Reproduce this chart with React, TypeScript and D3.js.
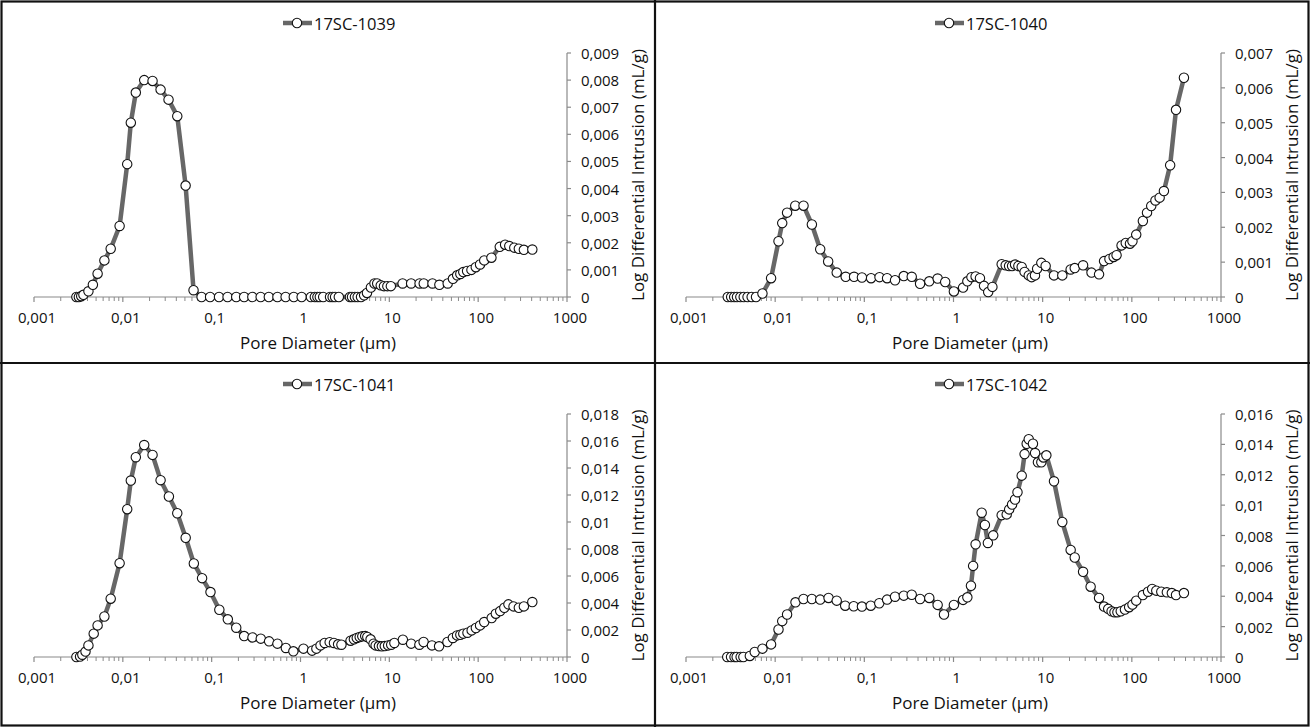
import React from "react";
import * as d3 from "d3";

// ---------- DATA ----------
const SAMPLES = ["17SC-1039", "17SC-1040", "17SC-1041", "17SC-1042"];

const X_TICKS = [0.001, 0.01, 0.1, 1, 10, 100, 1000];
const X_TICK_LABELS = ["0,001", "0,01", "0,1", "1", "10", "100", "1000"];

const Y_TICKS_1039 = [0, 0.001, 0.002, 0.003, 0.004, 0.005, 0.006, 0.007, 0.008, 0.009];
const Y_LABELS_1039 = ["0", "0,001", "0,002", "0,003", "0,004", "0,005", "0,006", "0,007", "0,008", "0,009"];
const Y_TICKS_1040 = [0, 0.001, 0.002, 0.003, 0.004, 0.005, 0.006, 0.007];
const Y_LABELS_1040 = ["0", "0,001", "0,002", "0,003", "0,004", "0,005", "0,006", "0,007"];
const Y_TICKS_1041 = [0, 0.002, 0.004, 0.006, 0.008, 0.01, 0.012, 0.014, 0.016, 0.018];
const Y_LABELS_1041 = ["0", "0,002", "0,004", "0,006", "0,008", "0,01", "0,012", "0,014", "0,016", "0,018"];
const Y_TICKS_1042 = [0, 0.002, 0.004, 0.006, 0.008, 0.01, 0.012, 0.014, 0.016];
const Y_LABELS_1042 = ["0", "0,002", "0,004", "0,006", "0,008", "0,01", "0,012", "0,014", "0,016"];

// [pore diameter (µm), log differential intrusion (mL/g)]
const DATA_1039: [number, number][] = [
  [0.003, 0], [0.0032, 0], [0.0034, 0.00003], [0.0036, 0.00008], [0.0041, 0.00021], [0.0046, 0.00045],
  [0.0052, 0.00086], [0.0062, 0.00135], [0.0073, 0.00178], [0.0092, 0.00262], [0.0112, 0.0049],
  [0.0123, 0.00643], [0.014, 0.00754], [0.0174, 0.008], [0.0216, 0.00797], [0.0266, 0.00765],
  [0.0327, 0.00728], [0.041, 0.00667], [0.0509, 0.00411], [0.0625, 0.00025],
  [0.077, 0], [0.096, 0], [0.121, 0], [0.151, 0], [0.189, 0], [0.232, 0], [0.287, 0], [0.356, 0],
  [0.44, 0], [0.55, 0], [0.68, 0], [0.84, 0], [1.03, 0], [1.31, 0], [1.45, 0], [1.55, 0], [1.65, 0],
  [1.8, 0], [2.15, 0], [2.3, 0], [2.45, 0], [2.7, 0], [3.6, 0], [3.8, 0], [4.1, 0], [4.4, 0], [4.8, 0],
  [5.2, 0.00006], [5.6, 0.00015], [6.2, 0.00035], [6.8, 0.0005], [7.3, 0.0005], [8.0, 0.00043],
  [8.7, 0.0004], [9.5, 0.0004], [10.4, 0.0004], [14.1, 0.0005], [17.6, 0.0005], [21.9, 0.0005],
  [24.4, 0.0005], [30.6, 0.0005], [36.6, 0.00045], [45.4, 0.0005], [52, 0.00067], [58, 0.0008],
  [63, 0.00085], [68, 0.00092], [75, 0.00096], [84, 0.001], [94, 0.0011], [105, 0.0012],
  [117, 0.00135], [141, 0.00145], [175, 0.00185], [201, 0.00193], [224, 0.00188], [255, 0.00182],
  [287, 0.00178], [327, 0.00174], [407, 0.00175],
];

const DATA_1040: [number, number][] = [
  [0.00294, 0], [0.00321, 0], [0.00347, 0], [0.00373, 0], [0.00407, 0], [0.00444, 0], [0.0049, 0],
  [0.00545, 0], [0.0061, 0], [0.0072, 0.0001], [0.009, 0.00054], [0.0109, 0.0016], [0.012, 0.00212],
  [0.0136, 0.00242], [0.0168, 0.00262], [0.0208, 0.00262], [0.0258, 0.00208], [0.032, 0.00137],
  [0.0393, 0.00102], [0.049, 0.0007], [0.0618, 0.00058], [0.0767, 0.00058], [0.094, 0.00056],
  [0.119, 0.00054], [0.148, 0.00057], [0.18, 0.00054], [0.221, 0.00048], [0.277, 0.0006],
  [0.34, 0.00058], [0.422, 0.00038], [0.535, 0.00045], [0.664, 0.00053], [0.807, 0.00043],
  [1.01, 0.00016], [1.28, 0.00027], [1.43, 0.00045], [1.59, 0.00057], [1.77, 0.00059],
  [1.98, 0.00054], [2.2, 0.00032], [2.45, 0.00014], [2.73, 0.00029], [3.47, 0.00094],
  [3.85, 0.00091], [4.2, 0.00089], [4.54, 0.00089], [4.9, 0.00093], [5.34, 0.00089], [5.82, 0.00086],
  [6.27, 0.00072], [6.98, 0.00062], [7.53, 0.00057], [8.2, 0.00062], [8.67, 0.00081], [9.66, 0.00098],
  [10.8, 0.00089], [13.4, 0.00062], [16.6, 0.00062], [20.6, 0.00079], [22.9, 0.00083], [28.4, 0.00091],
  [35.3, 0.0007], [42.9, 0.00065], [48.8, 0.00103], [56.1, 0.00109], [62.5, 0.00115], [67.4, 0.0012],
  [76.7, 0.00148], [85.5, 0.00155], [95.3, 0.00153], [101.6, 0.0016], [112, 0.00179], [133, 0.00218],
  [148, 0.00242], [165, 0.00261], [184, 0.00277], [205, 0.00285], [229, 0.00304], [269, 0.00378],
  [313, 0.00537], [384, 0.00629],
];

const DATA_1041: [number, number][] = [
  [0.003, 0], [0.0033, 0.00003], [0.0035, 0.00017], [0.0038, 0.0004], [0.0041, 0.00086],
  [0.0047, 0.00173], [0.0052, 0.00234], [0.0062, 0.003], [0.0073, 0.00432], [0.0092, 0.00695],
  [0.0112, 0.01095], [0.0123, 0.01307], [0.014, 0.0148], [0.0174, 0.0157], [0.0216, 0.01497],
  [0.0266, 0.0131], [0.033, 0.01189], [0.041, 0.01065], [0.051, 0.00883], [0.063, 0.00693],
  [0.078, 0.00584], [0.097, 0.00481], [0.122, 0.0035], [0.152, 0.00279], [0.189, 0.00217],
  [0.232, 0.00155], [0.288, 0.00145], [0.357, 0.00136], [0.443, 0.00116], [0.55, 0.00099],
  [0.684, 0.00067], [0.831, 0.00042], [1.08, 0.00062], [1.35, 0.00047], [1.51, 0.00062],
  [1.68, 0.00086], [1.87, 0.00104], [2.13, 0.0011], [2.38, 0.00104], [2.65, 0.00094], [2.89, 0.00091],
  [3.66, 0.00121], [3.99, 0.00131], [4.3, 0.00141], [4.64, 0.00148], [4.96, 0.00153], [5.35, 0.00155],
  [5.65, 0.00148], [6.15, 0.00131], [6.64, 0.00099], [7.01, 0.00086], [7.64, 0.00081], [8.24, 0.00079],
  [8.89, 0.00081], [9.7, 0.00086], [10.5, 0.00091], [11.4, 0.00104], [14.2, 0.00128], [17.6, 0.00099],
  [21.8, 0.00091], [24.3, 0.00111], [30.2, 0.00086], [36.3, 0.00079], [45.1, 0.00111], [51.9, 0.00141],
  [57.8, 0.0016], [63, 0.00165], [68, 0.00173], [75.8, 0.0018], [84.5, 0.00197], [94.2, 0.00215],
  [105, 0.00234], [117, 0.00259], [142, 0.00289], [158, 0.00321], [177, 0.0034], [197, 0.00365],
  [219, 0.0039], [250, 0.00375], [287, 0.00365], [327, 0.00375], [407, 0.00407],
];

const DATA_1042: [number, number][] = [
  [0.0029, 0], [0.0032, 0], [0.0035, 0], [0.0037, 0], [0.0041, 0], [0.0044, 0], [0.0052, 0.00007],
  [0.0059, 0.00033], [0.0072, 0.00055], [0.009, 0.00083], [0.0109, 0.00181], [0.012, 0.00236],
  [0.0136, 0.0028], [0.0169, 0.0036], [0.0208, 0.00382], [0.0258, 0.00382], [0.032, 0.00378],
  [0.0397, 0.00389], [0.049, 0.00371], [0.061, 0.00338], [0.076, 0.00334], [0.094, 0.00332],
  [0.118, 0.00338], [0.147, 0.00354], [0.18, 0.00378], [0.221, 0.00397], [0.277, 0.00404],
  [0.34, 0.0041], [0.422, 0.00382], [0.535, 0.00389], [0.664, 0.00343], [0.782, 0.0028],
  [1.01, 0.00343], [1.28, 0.00376], [1.43, 0.00393], [1.57, 0.00469], [1.66, 0.006], [1.77, 0.00742],
  [2.07, 0.0095], [2.25, 0.00869], [2.43, 0.00751], [2.79, 0.00801], [3.47, 0.00934], [3.95, 0.00939],
  [4.21, 0.00972], [4.54, 0.01004], [4.9, 0.01037], [5.22, 0.01085], [5.82, 0.01194], [6.27, 0.01336],
  [6.62, 0.01404], [6.98, 0.01434], [7.78, 0.01404], [8.22, 0.01343], [8.85, 0.01282], [9.66, 0.01282],
  [10.2, 0.01314], [11, 0.01328], [13.4, 0.01157], [16.6, 0.00889], [20.6, 0.00705], [22.9, 0.00655],
  [28.4, 0.00561], [34.5, 0.00463], [42.9, 0.00389], [48.8, 0.00332], [54.3, 0.00317], [59.3, 0.00301],
  [63.9, 0.00295], [68.9, 0.00295], [75.1, 0.00301], [83.7, 0.00312], [93.3, 0.00328], [101.6, 0.00345],
  [112, 0.00371], [133, 0.00408], [152, 0.0043], [169, 0.00448], [188, 0.00437], [214, 0.0043],
  [247, 0.00426], [281, 0.00421], [313, 0.00408], [384, 0.00421],
];

const X_TITLE = "Pore Diameter (µm)";
const Y_TITLE = "Log Differential Intrusion (mL/g)";

// ---------- LAYOUT ----------
const W = 1310;
const H = 727;
const FONT = "'Open Sans', 'DejaVu Sans', sans-serif";
const TEXT = "#111";
const AXIS = "#8a8a8a";
const LINE = "#676767";

const PANELS = [
  { name: SAMPLES[0], data: DATA_1039, yTicks: Y_TICKS_1039, yLabels: Y_LABELS_1039, ox: 0, oy: 0, x0: 34, x1: 567, y0: 297, y1: 53, legendX: 283, titleX: 318 },
  { name: SAMPLES[1], data: DATA_1040, yTicks: Y_TICKS_1040, yLabels: Y_LABELS_1040, ox: 655, oy: 0, x0: 31, x1: 566, y0: 297, y1: 53, legendX: 280, titleX: 315 },
  { name: SAMPLES[2], data: DATA_1041, yTicks: Y_TICKS_1041, yLabels: Y_LABELS_1041, ox: 0, oy: 362, x0: 34, x1: 567, y0: 295, y1: 52, legendX: 283, titleX: 318 },
  { name: SAMPLES[3], data: DATA_1042, yTicks: Y_TICKS_1042, yLabels: Y_LABELS_1042, ox: 655, oy: 362, x0: 31, x1: 566, y0: 295, y1: 52, legendX: 280, titleX: 315 },
];

function Panel({ p }: { p: typeof PANELS[number] }) {
  const x = d3.scaleLog().domain([0.001, 1000]).range([p.x0, p.x1]);
  const yMax = p.yTicks[p.yTicks.length - 1];
  const y = d3.scaleLinear().domain([0, yMax]).range([p.y0, p.y1]);
  const line = d3
    .line<[number, number]>()
    .x((d) => x(d[0]))
    .y((d) => y(d[1]))
    .curve(d3.curveLinear);

  const minor: number[] = [];
  for (let e = -3; e < 3; e++) {
    for (let k = 2; k <= 9; k++) minor.push(k * Math.pow(10, e));
  }

  const legendY = p.oy === 0 ? 23 : 22;
  const titleY = p.oy === 0 ? 342 : 340;
  const r = 4.7;

  return (
    <g transform={`translate(${p.ox},${p.oy})`}>
      {/* x axis */}
      <line x1={p.x0} x2={p.x1} y1={p.y0} y2={p.y0} stroke={AXIS} strokeWidth={1.2} />
      {X_TICKS.map((t) => (
        <line key={"M" + t} x1={x(t)} x2={x(t)} y1={p.y0} y2={p.y0 + 5} stroke={AXIS} strokeWidth={1.2} />
      ))}
      {minor.map((t) => (
        <line key={"m" + t} x1={x(t)} x2={x(t)} y1={p.y0} y2={p.y0 + 4} stroke={AXIS} strokeWidth={1} />
      ))}
      {X_TICK_LABELS.map((lab, i) => (
        <text key={"xl" + lab} x={x(X_TICKS[i]) + 3} y={p.y0 + 20} fontSize={15} fill={TEXT} textAnchor="middle" dominantBaseline="central" fontFamily={FONT}>
          {lab}
        </text>
      ))}
      {/* y axis (right) */}
      <line x1={p.x1} x2={p.x1} y1={p.y0} y2={p.y1} stroke={AXIS} strokeWidth={1.2} />
      {p.yTicks.map((t, i) => (
        <g key={"y" + t}>
          <line x1={p.x1} x2={p.x1 + 4} y1={y(t)} y2={y(t)} stroke={AXIS} strokeWidth={1.2} />
          <text x={p.x1 + 14} y={y(t)} fontSize={15} fill={TEXT} dominantBaseline="central" fontFamily={FONT}>
            {p.yLabels[i]}
          </text>
        </g>
      ))}
      {/* titles */}
      <text x={p.titleX} y={titleY} fontSize={17} fill={TEXT} textAnchor="middle" dominantBaseline="central" fontFamily={FONT}>
        {X_TITLE}
      </text>
      <text
        transform={`translate(${p.x1 + 70},${(p.y0 + p.y1) / 2}) rotate(-90)`}
        fontSize={17}
        fill={TEXT}
        textAnchor="middle"
        dominantBaseline="central"
        fontFamily={FONT}
      >
        {Y_TITLE}
      </text>
      {/* series */}
      <path d={line(p.data) || ""} fill="none" stroke={LINE} strokeWidth={4.5} strokeLinejoin="round" strokeLinecap="round" />
      {p.data.map((d, i) => (
        <circle key={i} cx={x(d[0])} cy={y(d[1])} r={r} fill="#fff" stroke="#111" strokeWidth={1.1} />
      ))}
      {/* legend */}
      <line x1={p.legendX} x2={p.legendX + 29} y1={legendY} y2={legendY} stroke={LINE} strokeWidth={4.5} />
      <circle cx={p.legendX + 14} cy={legendY} r={r} fill="#fff" stroke="#111" strokeWidth={1.1} />
      <text x={p.legendX + 31} y={legendY} fontSize={16.5} fill={TEXT} dominantBaseline="central" fontFamily={FONT}>
        {p.name}
      </text>
    </g>
  );
}

export default function App() {
  return (
    <svg
      width={W}
      height={H}
      viewBox={`0 0 ${W} ${H}`}
      style={{ position: "absolute", left: 0, top: 0, display: "block", background: "#fff" }}
    >
      <rect x={0} y={0} width={W} height={H} fill="#fff" />
      {PANELS.map((p) => (
        <Panel key={p.name} p={p} />
      ))}
      {/* frame */}
      <rect x={1.5} y={1.5} width={W - 3} height={H - 3} fill="none" stroke="#111" strokeWidth={2.2} />
      <line x1={655} x2={655} y1={0} y2={H} stroke="#111" strokeWidth={2.2} />
      <line x1={0} x2={W} y1={363} y2={363} stroke="#111" strokeWidth={2.2} />
    </svg>
  );
}
